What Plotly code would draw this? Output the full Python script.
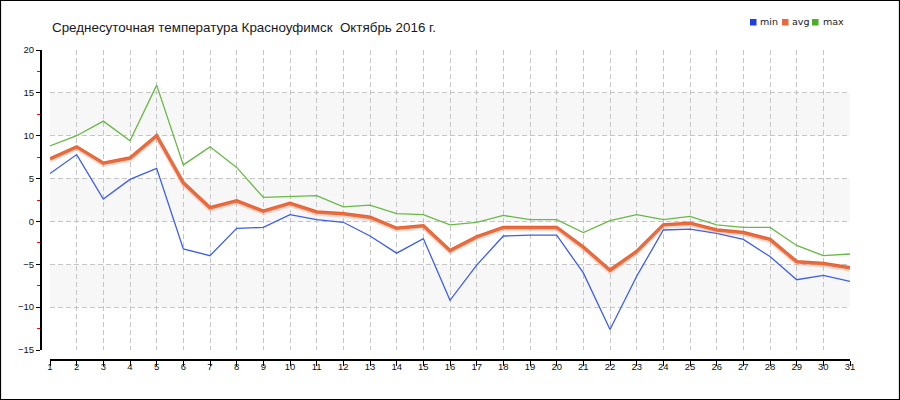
import plotly.graph_objects as go

days = list(range(1, 32))
tmin = [5.6, 7.8, 2.6, 4.9, 6.2, -3.2, -4.0, -0.8, -0.7, 0.8, 0.2, -0.1, -1.7, -3.7, -2.0, -9.2,
        -5.1, -1.7, -1.6, -1.6, -6.0, -12.6, -6.4, -1.0, -0.9, -1.4, -2.1, -4.1, -6.8, -6.3, -7.0]
tavg = [7.3, 8.7, 6.8, 7.4, 10.0, 4.5, 1.6, 2.4, 1.2, 2.1, 1.1, 0.9, 0.5, -0.8, -0.5, -3.4,
        -1.8, -0.7, -0.7, -0.7, -3.0, -5.7, -3.5, -0.4, -0.2, -1.0, -1.3, -2.1, -4.7, -4.9, -5.4]
tmax = [8.8, 10.0, 11.7, 9.4, 15.9, 6.6, 8.7, 6.3, 2.8, 2.9, 3.0, 1.7, 1.9, 0.9, 0.8, -0.4,
        -0.1, 0.7, 0.2, 0.2, -1.3, 0.1, 0.8, 0.2, 0.6, -0.4, -0.7, -0.7, -2.8, -4.0, -3.8]
series_names = ["min", "avg", "max"]
title_text = "Среднесуточная температура Красноуфимск\u00a0\u00a0Октябрь 2016 г."
y_range = [-15, 20]
bands = [(10, 15), (0, 5), (-10, -5)]

C_MIN = "#3d5fe8"
C_AVG = "#e65f2b"
C_MAX = "#68b946"
LEG_COLORS = ["#1f3fe6", "#e8693a", "#4caf22"]

W, H = 900, 400
ML, MR, MT, MB = 41, 50, 50, 40
PW = W - ML - MR
PH = H - MT - MB


def px_x(p):
    return (p - ML) / PW


def px_y(p):
    return (H - MB - p) / PH


fig = go.Figure()

fig.add_trace(go.Scatter(x=days, y=tmin, mode="lines", line=dict(color=C_MIN, width=1.3),
                         showlegend=False, hoverinfo="skip"))
fig.add_trace(go.Scatter(x=days, y=tmax, mode="lines", line=dict(color=C_MAX, width=1.3),
                         showlegend=False, hoverinfo="skip"))
# soft shadow of avg line (same data, slightly shifted axis)
fig.add_trace(go.Scatter(x=days, y=tavg, mode="lines", yaxis="y2",
                         line=dict(color="rgba(240,140,110,0.3)", width=4.5),
                         showlegend=False, hoverinfo="skip"))
fig.add_trace(go.Scatter(x=days, y=tavg, mode="lines", line=dict(color=C_AVG, width=3.5),
                         showlegend=False, hoverinfo="skip"))

shapes = []
for lo, hi in bands:
    shapes.append(dict(type="rect", xref="x domain", yref="y", x0=0, x1=1, y0=lo, y1=hi,
                       fillcolor="#f7f7f7", line=dict(width=0), layer="below"))
# outer border
shapes.append(dict(type="rect", xref="paper", yref="paper",
                   x0=px_x(0.5), x1=px_x(899.5), y0=px_y(399.5), y1=px_y(0.5),
                   line=dict(color="black", width=1.2), fillcolor="rgba(0,0,0,0)"))

annotations = [dict(text=title_text, xref="paper", yref="paper", x=px_x(50), y=px_y(28),
                    xanchor="left", yanchor="middle", showarrow=False,
                    font=dict(family="Liberation Sans, Arial", size=13.4, color="#1a1a1a"))]

leg_sq_x = [750, 782, 812]
leg_txt_x = [758, 790, 821]
for name, col, sx, tx in zip(series_names, LEG_COLORS, leg_sq_x, leg_txt_x):
    shapes.append(dict(type="rect", xref="paper", yref="paper",
                       x0=px_x(sx), x1=px_x(sx + 6.5), y0=px_y(25.5), y1=px_y(19),
                       fillcolor=col, line=dict(width=0)))
    annotations.append(dict(text=name, xref="paper", yref="paper", x=px_x(tx), y=px_y(22),
                            xanchor="left", yanchor="middle", showarrow=False,
                            font=dict(family="DejaVu Sans", size=9.5, color="#222")))

tickfont = dict(family="Liberation Sans, Arial", size=9.5, color="#111")

fig.update_layout(
    width=W, height=H, autosize=False,
    margin=dict(l=ML, r=MR, t=MT, b=MB, pad=0),
    paper_bgcolor="white", plot_bgcolor="white",
    showlegend=False,
    shapes=shapes, annotations=annotations,
    xaxis=dict(domain=[(50 - ML) / PW, 1], range=[1, 31], anchor="free", position=0,
               tickmode="array", tickvals=days, ticktext=[str(d) for d in days],
               ticks="outside", ticklen=5, tickwidth=1, tickcolor="black",
               showline=True, linecolor="black", linewidth=2,
               showgrid=True, gridcolor="#c6c6c6", griddash="5px,3px", gridwidth=1,
               zeroline=False, tickfont=tickfont, ticklabelstandoff=-7),
    yaxis=dict(domain=[(H - MB - 350) / PH, 1], range=y_range, anchor="free", position=0,
               tickmode="linear", tick0=0, dtick=5,
               ticks="outside", ticklen=4, tickwidth=1, tickcolor="black",
               minor=dict(dtick=2.5, tick0=0, ticks="outside", ticklen=3, tickcolor="red",
                          tickwidth=1, showgrid=False),
               showline=True, linecolor="black", linewidth=2,
               showgrid=True, gridcolor="#c6c6c6", griddash="5px,3px", gridwidth=1,
               zeroline=False, tickfont=tickfont),
    yaxis2=dict(domain=[(H - MB - 350) / PH, 1], overlaying="y", anchor="x",
                range=[y_range[0] + 0.18, y_range[1] + 0.18],
                showgrid=False, showline=False, showticklabels=False, zeroline=False,
                ticks=""),
)

fig.write_html("out.html", config={"displayModeBar": False, "staticPlot": True},
               post_script="document.body.style.margin='0';document.body.style.overflow='hidden';")
